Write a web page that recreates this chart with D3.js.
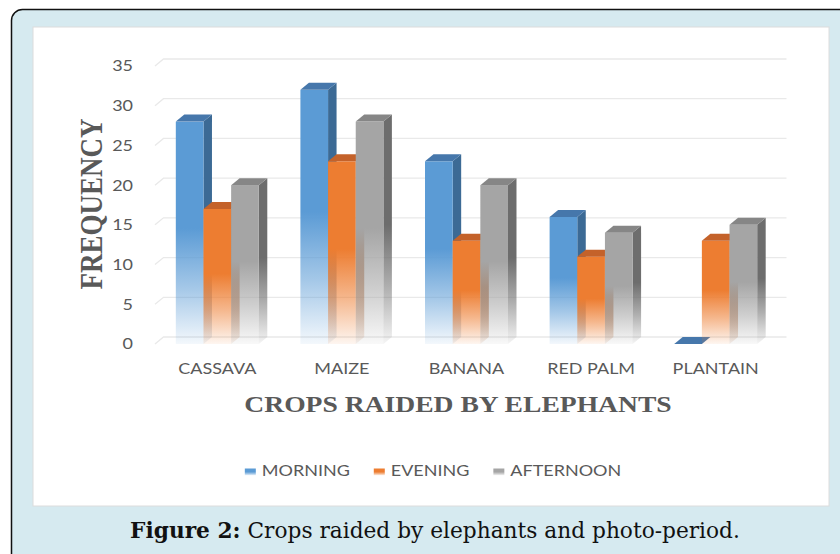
<!DOCTYPE html>
<html>
<head>
<meta charset="utf-8">
<script src="https://cdn.jsdelivr.net/npm/d3@7/dist/d3.min.js"></script>
<style>
  html, body { margin: 0; padding: 0; background: #ffffff; }
  svg { display: block; }
</style>
</head>
<body>
<svg id="chart" width="840" height="554"></svg>
<script>
// Crop-raiding frequency by time of day
const categories = ["CASSAVA", "MAIZE", "BANANA", "RED PALM", "PLANTAIN"];
const seriesNames = ["MORNING", "EVENING", "AFTERNOON"];
const morning = [28, 32, 23, 16, 0];
const evening = [17, 23, 13, 11, 13];
const afternoon = [20, 28, 20, 14, 15];
const yTicks = [0, 5, 10, 15, 20, 25, 30, 35];
const xTitle = "CROPS RAIDED BY ELEPHANTS";
const yTitle = "FREQUENCY";
const captionBold = "Figure 2:";
const captionText = " Crops raided by elephants and photo-period.";

const seriesValues = [morning, evening, afternoon];
const frontColors = ["#5b9bd5", "#ed7d31", "#a5a5a5"];
const topColors = ["#4677ab", "#c4622a", "#868686"];
const sideColors = ["#3c6a95", "#ad5a22", "#6d6d6d"];

const svg = d3.select("#chart");
const SX = 1.2;           // horizontal stretch applied to all text
const DX = 8.5, DY = -7;  // depth offset of the 3-D back plane
const labelFont = "Lato, 'Open Sans', sans-serif";
const textGray = "#595959";

// frame and panel
svg.append("rect")
  .attr("x", 11.5).attr("y", 9.5).attr("width", 880).attr("height", 600)
  .attr("rx", 11).attr("ry", 11)
  .attr("fill", "#d6eaf0").attr("stroke", "#111").attr("stroke-width", 1.5);
svg.append("rect")
  .attr("x", 33).attr("y", 27).attr("width", 796).attr("height", 479)
  .attr("fill", "#ffffff").attr("stroke", "#dcdcdc").attr("stroke-width", 1);

// scales (front plane)
const x = d3.scaleBand().domain(categories).range([155, 778])
  .paddingInner(0.334).paddingOuter(0.167);
const xs = d3.scaleBand().domain(seriesNames).range([0, x.bandwidth()]).padding(0);
const y = d3.scaleLinear().domain([0, 35]).range([344, 66]);

// gradients
const defs = svg.append("defs");
function fadeGradient(id, color) {
  const g = defs.append("linearGradient").attr("id", id)
    .attr("x1", 0).attr("y1", 0).attr("x2", 0).attr("y2", 1);
  g.append("stop").attr("offset", 0).attr("stop-color", color).attr("stop-opacity", 1);
  g.append("stop").attr("offset", 0.48).attr("stop-color", color).attr("stop-opacity", 1);
  g.append("stop").attr("offset", 0.75).attr("stop-color", color).attr("stop-opacity", 0.55);
  g.append("stop").attr("offset", 1).attr("stop-color", color).attr("stop-opacity", 0.07);
}
seriesNames.forEach((s, i) => {
  fadeGradient("front" + i, frontColors[i]);
  fadeGradient("side" + i, sideColors[i]);
});

// gridlines on back wall with short left-wall segment
const grid = svg.append("g");
yTicks.forEach(t => {
  const yy = y(t);
  grid.append("path")
    .attr("d", `M${x.range()[0]},${yy} L${x.range()[0] + DX},${yy + DY} L${x.range()[1] + DX},${yy + DY}`)
    .attr("fill", "none").attr("stroke", "#e9e9e9").attr("stroke-width", 1.3);
});

// y tick labels
svg.append("g").selectAll("text").data(yTicks).join("text")
  .attr("transform", d => `translate(133,${y(d)}) scale(${SX},1)`)
  .attr("dy", "0.36em")
  .attr("text-anchor", "end")
  .attr("font-family", labelFont).attr("font-size", 15)
  .attr("fill", textGray)
  .text(d => d);

// bars
const bars = svg.append("g");
categories.forEach((c, ci) => {
  seriesNames.forEach((s, si) => {
    const v = seriesValues[si][ci];
    const x0 = x(c) + xs(s), w = xs.bandwidth();
    const yv = y(v), y0 = y(0);
    const g = bars.append("g");
    if (v > 0) {
      g.append("path")
        .attr("d", `M${x0 + w},${yv} L${x0 + w + DX},${yv + DY} L${x0 + w + DX},${y0 + DY} L${x0 + w},${y0} Z`)
        .attr("fill", `url(#side${si})`);
      g.append("rect")
        .attr("x", x0).attr("y", yv).attr("width", w).attr("height", y0 - yv)
        .attr("fill", `url(#front${si})`);
    }
    g.append("path")
      .attr("d", `M${x0},${yv} L${x0 + DX},${yv + DY} L${x0 + w + DX},${yv + DY} L${x0 + w},${yv} Z`)
      .attr("fill", topColors[si]);
  });
});

// category labels
svg.append("g").selectAll("text").data(categories).join("text")
  .attr("transform", d => `translate(${x(d) + x.bandwidth() / 2},374) scale(${SX},1)`)
  .attr("text-anchor", "middle")
  .attr("font-family", labelFont).attr("font-size", 15)
  .attr("fill", textGray)
  .text(d => d);

// axis titles
svg.append("text")
  .attr("transform", `translate(458,412) scale(${SX},1)`)
  .attr("text-anchor", "middle")
  .attr("font-family", "'Liberation Serif', 'Times New Roman', serif")
  .attr("font-weight", "bold").attr("font-size", 23)
  .attr("fill", textGray)
  .text(xTitle);
svg.append("text")
  .attr("transform", `translate(91.5,204) scale(${SX},1) rotate(-90)`)
  .attr("text-anchor", "middle").attr("dy", "0.33em")
  .attr("font-family", "'Liberation Serif', 'Times New Roman', serif")
  .attr("font-weight", "bold").attr("font-size", 27)
  .attr("fill", textGray)
  .text(yTitle);

// legend
const legend = svg.append("g");
let lx = 0;
const items = [];
seriesNames.forEach((s, i) => {
  const it = legend.append("g");
  it.append("rect")
    .attr("x", 0).attr("y", -7.5).attr("width", 11).attr("height", 7)
    .attr("fill", `url(#front${i})`);
  const t = it.append("text")
    .attr("transform", `translate(17,0) scale(${SX},1)`)
    .attr("font-family", labelFont).attr("font-size", 15)
    .attr("fill", textGray)
    .text(s);
  const tw = t.node().getComputedTextLength() * SX;
  it.attr("transform", `translate(${lx},0)`);
  lx += 17 + tw + 24;
});
const legendW = lx - 24;
legend.attr("transform", `translate(${433 - legendW / 2},476)`);

// caption
const cap = svg.append("text")
  .attr("text-anchor", "middle")
  .attr("font-family", "'DejaVu Serif', serif").attr("font-size", 22)
  .attr("fill", "#111");
cap.append("tspan").attr("font-weight", "bold").text(captionBold);
cap.append("tspan").text(captionText);
const capW = cap.node().getComputedTextLength();
cap.attr("transform", `translate(435,538) scale(${610 / capW},1)`);
</script>
</body>
</html>
